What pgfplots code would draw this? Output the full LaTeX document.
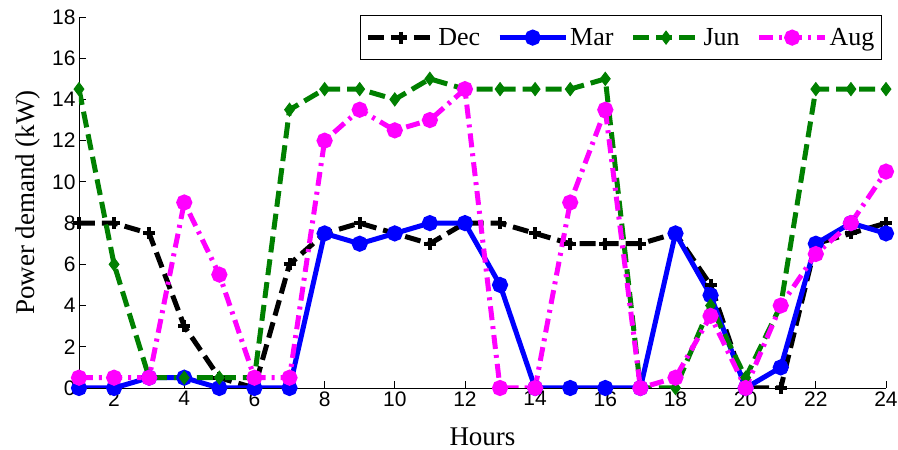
\documentclass[border=0pt]{standalone}
\usepackage{pgfplots}
\pgfplotsset{compat=1.18}
\usepackage{fontspec}
\setmainfont{Liberation Serif}
\setsansfont{Liberation Sans}
\definecolor{mgreen}{RGB}{0,128,0}
\definecolor{mmag}{RGB}{255,0,255}
\definecolor{mblue}{RGB}{0,0,255}
\begin{document}
\begin{tikzpicture}[x=1pt,y=1pt]
\useasboundingbox (0,0) rectangle (898,450);
\begin{axis}[
    at={(79pt,62pt)}, anchor=south west,
    scale only axis, width=807pt, height=371pt,
    xmin=1, xmax=24, ymin=0, ymax=18,
    xtick={2,4,...,24}, ytick={0,2,...,18},
    axis x line*=bottom, axis y line*=left,
    axis line style={line width=0.8pt,-},
    tick style={line width=0.8pt,black},
    tick align=inside, major tick length=7pt,
    ticklabel style={font=\sffamily\fontsize{21}{21}\selectfont},
    /pgf/number format/assume math mode=true,
    xlabel={Hours}, ylabel={Power demand (kW)},
    label style={font=\fontsize{27}{27}\selectfont},
    xlabel style={at={(axis description cs:0.5,0)},anchor=base,yshift=-57pt},
    ylabel style={at={(axis description cs:-0.0632,0.5)},anchor=center},
    legend columns=4,
    legend style={at={(rel axis cs:0.995,1.006)},anchor=north east,
        font=\fontsize{26}{26}\selectfont, draw=black, line width=1pt,
        /tikz/every even column/.append style={column sep=15pt},
        inner xsep=5pt, inner ysep=11pt},
    legend image code/.code={\draw[mark repeat=2,mark phase=2,line width=5pt] plot coordinates {(0pt,0pt) (33pt,0pt) (66pt,0pt)};},
]
\addplot[black, line width=5pt, dash pattern=on 16pt off 7pt, mark=+, mark size=6pt, mark options={solid,line width=4pt}] coordinates {
(1,8) (2,8) (3,7.5) (4,3) (5,0.5) (6,0) (7,6) (8,7.5) (9,8) (10,7.5) (11,7) (12,8)
(13,8) (14,7.5) (15,7) (16,7) (17,7) (18,7.5) (19,5) (20,0) (21,0) (22,7) (23,7.5) (24,8)};
\addplot[mblue, line width=5pt, solid, mark=*, mark size=5.5pt] coordinates {
(1,0) (2,0) (3,0.5) (4,0.5) (5,0) (6,0) (7,0) (8,7.5) (9,7) (10,7.5) (11,8) (12,8)
(13,5) (14,0) (15,0) (16,0) (17,0) (18,7.5) (19,4.5) (20,0) (21,1) (22,7) (23,8) (24,7.5)};
\addplot[mgreen, line width=5pt, dash pattern=on 16pt off 7pt, mark=diamond*, mark size=6.5pt, mark options={solid,line width=1pt}] coordinates {
(1,14.5) (2,6) (3,0.5) (4,0.5) (5,0.5) (6,0.5) (7,13.5) (8,14.5) (9,14.5) (10,14) (11,15) (12,14.5)
(13,14.5) (14,14.5) (15,14.5) (16,15) (17,0) (18,0) (19,4) (20,0.5) (21,4) (22,14.5) (23,14.5) (24,14.5)};
\addplot[mmag, line width=5pt, dash pattern=on 14pt off 6pt on 3pt off 6pt, mark=*, mark size=5.5pt, mark options={solid}] coordinates {
(1,0.5) (2,0.5) (3,0.5) (4,9) (5,5.5) (6,0.5) (7,0.5) (8,12) (9,13.5) (10,12.5) (11,13) (12,14.5)
(13,0) (14,0) (15,9) (16,13.5) (17,0) (18,0.5) (19,3.5) (20,0) (21,4) (22,6.5) (23,8) (24,10.5)};
\legend{Dec, Mar, Jun, Aug}
\end{axis}
\end{tikzpicture}
\end{document}
